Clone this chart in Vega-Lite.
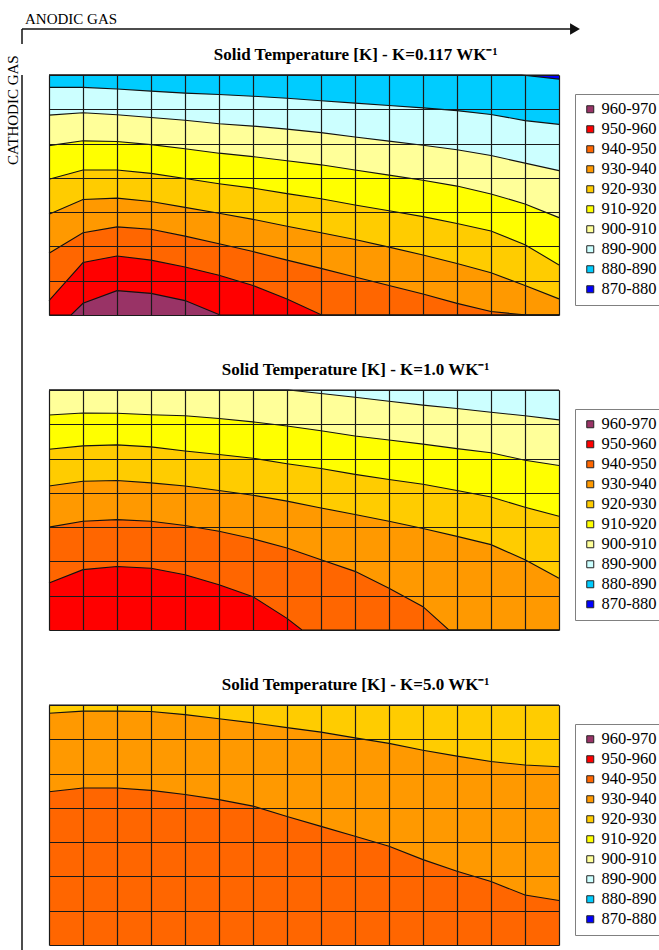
{
  "$schema": "https://vega.github.io/schema/vega-lite/v6.json",
  "padding": {"left": 6, "top": 12, "right": 0, "bottom": 0},
  "title": {"text": "CATHODIC GAS", "orient": "left", "anchor": "end", "fontSize": 15, "fontWeight": "normal", "offset": -5, "dx": -43},
  "datasets": {
    "t": [
      {"p":1,"b":"870-880","x":0,"y":0},{"p":1,"b":"870-880","x":15,"y":0},
      {"p":1,"b":"880-890","x":0,"y":0},{"p":1,"b":"880-890","x":13.9,"y":0},{"p":1,"b":"880-890","x":15,"y":0.12},
      {"p":1,"b":"890-900","x":0,"y":0.36},{"p":1,"b":"890-900","x":1,"y":0.36},{"p":1,"b":"890-900","x":2,"y":0.41},{"p":1,"b":"890-900","x":3,"y":0.47},{"p":1,"b":"890-900","x":4,"y":0.53},{"p":1,"b":"890-900","x":5,"y":0.57},{"p":1,"b":"890-900","x":6,"y":0.62},{"p":1,"b":"890-900","x":7,"y":0.68},{"p":1,"b":"890-900","x":8,"y":0.75},{"p":1,"b":"890-900","x":9,"y":0.82},{"p":1,"b":"890-900","x":10,"y":0.89},{"p":1,"b":"890-900","x":11,"y":0.96},{"p":1,"b":"890-900","x":12,"y":1.04},{"p":1,"b":"890-900","x":13,"y":1.15},{"p":1,"b":"890-900","x":14,"y":1.33},{"p":1,"b":"890-900","x":15,"y":1.44},
      {"p":1,"b":"900-910","x":0,"y":1.17},{"p":1,"b":"900-910","x":1,"y":1.10},{"p":1,"b":"900-910","x":2,"y":1.16},{"p":1,"b":"900-910","x":3,"y":1.24},{"p":1,"b":"900-910","x":4,"y":1.32},{"p":1,"b":"900-910","x":5,"y":1.42},{"p":1,"b":"900-910","x":6,"y":1.49},{"p":1,"b":"900-910","x":7,"y":1.58},{"p":1,"b":"900-910","x":8,"y":1.68},{"p":1,"b":"900-910","x":9,"y":1.81},{"p":1,"b":"900-910","x":10,"y":1.93},{"p":1,"b":"900-910","x":11,"y":2.05},{"p":1,"b":"900-910","x":12,"y":2.18},{"p":1,"b":"900-910","x":13,"y":2.35},{"p":1,"b":"900-910","x":14,"y":2.57},{"p":1,"b":"900-910","x":15,"y":2.79},
      {"p":1,"b":"910-920","x":0,"y":2.06},{"p":1,"b":"910-920","x":1,"y":1.92},{"p":1,"b":"910-920","x":2,"y":1.94},{"p":1,"b":"910-920","x":3,"y":2.03},{"p":1,"b":"910-920","x":4,"y":2.15},{"p":1,"b":"910-920","x":5,"y":2.28},{"p":1,"b":"910-920","x":6,"y":2.38},{"p":1,"b":"910-920","x":7,"y":2.50},{"p":1,"b":"910-920","x":8,"y":2.62},{"p":1,"b":"910-920","x":9,"y":2.77},{"p":1,"b":"910-920","x":10,"y":2.92},{"p":1,"b":"910-920","x":11,"y":3.07},{"p":1,"b":"910-920","x":12,"y":3.24},{"p":1,"b":"910-920","x":13,"y":3.47},{"p":1,"b":"910-920","x":14,"y":3.76},{"p":1,"b":"910-920","x":15,"y":4.16},
      {"p":1,"b":"920-930","x":0,"y":3.04},{"p":1,"b":"920-930","x":1,"y":2.77},{"p":1,"b":"920-930","x":2,"y":2.77},{"p":1,"b":"920-930","x":3,"y":2.87},{"p":1,"b":"920-930","x":4,"y":3.02},{"p":1,"b":"920-930","x":5,"y":3.17},{"p":1,"b":"920-930","x":6,"y":3.30},{"p":1,"b":"920-930","x":7,"y":3.46},{"p":1,"b":"920-930","x":8,"y":3.61},{"p":1,"b":"920-930","x":9,"y":3.79},{"p":1,"b":"920-930","x":10,"y":3.96},{"p":1,"b":"920-930","x":11,"y":4.13},{"p":1,"b":"920-930","x":12,"y":4.33},{"p":1,"b":"920-930","x":13,"y":4.55},{"p":1,"b":"920-930","x":14,"y":4.95},{"p":1,"b":"920-930","x":15,"y":5.54},
      {"p":1,"b":"930-940","x":0,"y":4.06},{"p":1,"b":"930-940","x":1,"y":3.63},{"p":1,"b":"930-940","x":2,"y":3.59},{"p":1,"b":"930-940","x":3,"y":3.69},{"p":1,"b":"930-940","x":4,"y":3.86},{"p":1,"b":"930-940","x":5,"y":4.03},{"p":1,"b":"930-940","x":6,"y":4.21},{"p":1,"b":"930-940","x":7,"y":4.41},{"p":1,"b":"930-940","x":8,"y":4.60},{"p":1,"b":"930-940","x":9,"y":4.80},{"p":1,"b":"930-940","x":10,"y":5.02},{"p":1,"b":"930-940","x":11,"y":5.25},{"p":1,"b":"930-940","x":12,"y":5.50},{"p":1,"b":"930-940","x":13,"y":5.77},{"p":1,"b":"930-940","x":14,"y":6.14},{"p":1,"b":"930-940","x":15,"y":6.53},
      {"p":1,"b":"940-950","x":0,"y":5.20},{"p":1,"b":"940-950","x":1,"y":4.60},{"p":1,"b":"940-950","x":2,"y":4.43},{"p":1,"b":"940-950","x":3,"y":4.50},{"p":1,"b":"940-950","x":4,"y":4.70},{"p":1,"b":"940-950","x":5,"y":4.92},{"p":1,"b":"940-950","x":6,"y":5.15},{"p":1,"b":"940-950","x":7,"y":5.40},{"p":1,"b":"940-950","x":8,"y":5.64},{"p":1,"b":"940-950","x":9,"y":5.89},{"p":1,"b":"940-950","x":10,"y":6.14},{"p":1,"b":"940-950","x":11,"y":6.39},{"p":1,"b":"940-950","x":12,"y":6.66},{"p":1,"b":"940-950","x":13,"y":6.90},{"p":1,"b":"940-950","x":14.06,"y":7},{"p":1,"b":"940-950","x":15,"y":7},
      {"p":1,"b":"950-960","x":0,"y":6.58},{"p":1,"b":"950-960","x":1,"y":5.47},{"p":1,"b":"950-960","x":2,"y":5.28},{"p":1,"b":"950-960","x":3,"y":5.40},{"p":1,"b":"950-960","x":4,"y":5.60},{"p":1,"b":"950-960","x":5,"y":5.84},{"p":1,"b":"950-960","x":6,"y":6.14},{"p":1,"b":"950-960","x":7,"y":6.53},{"p":1,"b":"950-960","x":8.02,"y":7},{"p":1,"b":"950-960","x":15,"y":7},
      {"p":1,"b":"960-970","x":0,"y":7},{"p":1,"b":"960-970","x":0.65,"y":7},{"p":1,"b":"960-970","x":1,"y":6.66},{"p":1,"b":"960-970","x":2,"y":6.29},{"p":1,"b":"960-970","x":3,"y":6.37},{"p":1,"b":"960-970","x":4,"y":6.58},{"p":1,"b":"960-970","x":5.03,"y":7},{"p":1,"b":"960-970","x":15,"y":7},

      {"p":2,"b":"890-900","x":0,"y":0},{"p":2,"b":"890-900","x":15,"y":0},
      {"p":2,"b":"900-910","x":0,"y":0},{"p":2,"b":"900-910","x":7.05,"y":0},{"p":2,"b":"900-910","x":8,"y":0.10},{"p":2,"b":"900-910","x":9,"y":0.21},{"p":2,"b":"900-910","x":10,"y":0.33},{"p":2,"b":"900-910","x":11,"y":0.44},{"p":2,"b":"900-910","x":12,"y":0.54},{"p":2,"b":"900-910","x":13,"y":0.65},{"p":2,"b":"900-910","x":14,"y":0.75},{"p":2,"b":"900-910","x":15,"y":0.87},
      {"p":2,"b":"910-920","x":0,"y":0.73},{"p":2,"b":"910-920","x":1,"y":0.67},{"p":2,"b":"910-920","x":2,"y":0.68},{"p":2,"b":"910-920","x":3,"y":0.72},{"p":2,"b":"910-920","x":4,"y":0.75},{"p":2,"b":"910-920","x":5,"y":0.83},{"p":2,"b":"910-920","x":6,"y":0.93},{"p":2,"b":"910-920","x":7,"y":1.05},{"p":2,"b":"910-920","x":8,"y":1.19},{"p":2,"b":"910-920","x":9,"y":1.34},{"p":2,"b":"910-920","x":10,"y":1.46},{"p":2,"b":"910-920","x":11,"y":1.58},{"p":2,"b":"910-920","x":12,"y":1.71},{"p":2,"b":"910-920","x":13,"y":1.83},{"p":2,"b":"910-920","x":14,"y":2.05},{"p":2,"b":"910-920","x":15,"y":2.20},
      {"p":2,"b":"920-930","x":0,"y":1.73},{"p":2,"b":"920-930","x":1,"y":1.63},{"p":2,"b":"920-930","x":2,"y":1.60},{"p":2,"b":"920-930","x":3,"y":1.66},{"p":2,"b":"920-930","x":4,"y":1.78},{"p":2,"b":"920-930","x":5,"y":1.88},{"p":2,"b":"920-930","x":6,"y":1.99},{"p":2,"b":"920-930","x":7,"y":2.15},{"p":2,"b":"920-930","x":8,"y":2.29},{"p":2,"b":"920-930","x":9,"y":2.46},{"p":2,"b":"920-930","x":10,"y":2.61},{"p":2,"b":"920-930","x":11,"y":2.75},{"p":2,"b":"920-930","x":12,"y":2.93},{"p":2,"b":"920-930","x":13,"y":3.12},{"p":2,"b":"920-930","x":14,"y":3.42},{"p":2,"b":"920-930","x":15,"y":3.68},
      {"p":2,"b":"930-940","x":0,"y":2.80},{"p":2,"b":"930-940","x":1,"y":2.66},{"p":2,"b":"930-940","x":2,"y":2.64},{"p":2,"b":"930-940","x":3,"y":2.71},{"p":2,"b":"930-940","x":4,"y":2.80},{"p":2,"b":"930-940","x":5,"y":2.93},{"p":2,"b":"930-940","x":6,"y":3.07},{"p":2,"b":"930-940","x":7,"y":3.24},{"p":2,"b":"930-940","x":8,"y":3.44},{"p":2,"b":"930-940","x":9,"y":3.63},{"p":2,"b":"930-940","x":10,"y":3.83},{"p":2,"b":"930-940","x":11,"y":4.04},{"p":2,"b":"930-940","x":12,"y":4.27},{"p":2,"b":"930-940","x":13,"y":4.51},{"p":2,"b":"930-940","x":14,"y":4.95},{"p":2,"b":"930-940","x":15,"y":5.49},
      {"p":2,"b":"940-950","x":0,"y":4.00},{"p":2,"b":"940-950","x":1,"y":3.83},{"p":2,"b":"940-950","x":2,"y":3.78},{"p":2,"b":"940-950","x":3,"y":3.83},{"p":2,"b":"940-950","x":4,"y":3.95},{"p":2,"b":"940-950","x":5,"y":4.12},{"p":2,"b":"940-950","x":6,"y":4.34},{"p":2,"b":"940-950","x":7,"y":4.61},{"p":2,"b":"940-950","x":8,"y":4.95},{"p":2,"b":"940-950","x":9,"y":5.29},{"p":2,"b":"940-950","x":10,"y":5.78},{"p":2,"b":"940-950","x":11,"y":6.32},{"p":2,"b":"940-950","x":11.76,"y":7},{"p":2,"b":"940-950","x":15,"y":7},
      {"p":2,"b":"950-960","x":0,"y":5.63},{"p":2,"b":"950-960","x":1,"y":5.24},{"p":2,"b":"950-960","x":2,"y":5.15},{"p":2,"b":"950-960","x":3,"y":5.20},{"p":2,"b":"950-960","x":4,"y":5.39},{"p":2,"b":"950-960","x":5,"y":5.68},{"p":2,"b":"950-960","x":6,"y":6.03},{"p":2,"b":"950-960","x":7,"y":6.66},{"p":2,"b":"950-960","x":7.44,"y":7},{"p":2,"b":"950-960","x":15,"y":7},

      {"p":3,"b":"920-930","x":0,"y":0},{"p":3,"b":"920-930","x":15,"y":0},
      {"p":3,"b":"930-940","x":0,"y":0.24},{"p":3,"b":"930-940","x":1,"y":0.18},{"p":3,"b":"930-940","x":2,"y":0.18},{"p":3,"b":"930-940","x":3,"y":0.19},{"p":3,"b":"930-940","x":4,"y":0.28},{"p":3,"b":"930-940","x":5,"y":0.40},{"p":3,"b":"930-940","x":6,"y":0.52},{"p":3,"b":"930-940","x":7,"y":0.66},{"p":3,"b":"930-940","x":8,"y":0.79},{"p":3,"b":"930-940","x":9,"y":0.96},{"p":3,"b":"930-940","x":10,"y":1.12},{"p":3,"b":"930-940","x":11,"y":1.32},{"p":3,"b":"930-940","x":12,"y":1.49},{"p":3,"b":"930-940","x":13,"y":1.65},{"p":3,"b":"930-940","x":14,"y":1.75},{"p":3,"b":"930-940","x":15,"y":1.80},
      {"p":3,"b":"940-950","x":0,"y":2.53},{"p":3,"b":"940-950","x":1,"y":2.42},{"p":3,"b":"940-950","x":2,"y":2.42},{"p":3,"b":"940-950","x":3,"y":2.49},{"p":3,"b":"940-950","x":4,"y":2.61},{"p":3,"b":"940-950","x":5,"y":2.76},{"p":3,"b":"940-950","x":6,"y":2.95},{"p":3,"b":"940-950","x":7,"y":3.25},{"p":3,"b":"940-950","x":8,"y":3.54},{"p":3,"b":"940-950","x":9,"y":3.83},{"p":3,"b":"940-950","x":10,"y":4.12},{"p":3,"b":"940-950","x":11,"y":4.51},{"p":3,"b":"940-950","x":12,"y":4.85},{"p":3,"b":"940-950","x":13,"y":5.15},{"p":3,"b":"940-950","x":14,"y":5.54},{"p":3,"b":"940-950","x":15,"y":5.70}
    ]
  },
  "spacing": 0,
  "vconcat": [
    {
      "width": 553,
      "height": 15,
      "data": {"values": [{}]},
      "title": {"text": "ANODIC GAS", "anchor": "start", "fontSize": 15, "fontWeight": "normal", "offset": -4, "dx": 3, "frame": "group"},
      "layer": [
        {"mark": {"type": "rule", "color": "#111", "strokeWidth": 1.5},
         "encoding": {"x": {"datum": 0, "type": "quantitative", "scale": {"domain": [0, 1]}, "axis": null}, "x2": {"datum": 1}, "y": {"datum": 1, "type": "quantitative", "scale": {"domain": [0, 1]}, "axis": null}}},
        {"mark": {"type": "rule", "color": "#111", "strokeWidth": 1.5},
         "encoding": {"x": {"datum": 0, "type": "quantitative"}, "y": {"datum": 0, "type": "quantitative"}, "y2": {"datum": 1}}},
        {"mark": {"type": "point", "shape": "triangle-right", "filled": true, "color": "#111", "opacity": 1, "size": 130},
         "encoding": {"x": {"datum": 1, "type": "quantitative"}, "y": {"datum": 1, "type": "quantitative"}}},
        {"mark": {"type": "point", "shape": "triangle-down", "filled": true, "color": "#111", "opacity": 0, "size": 130},
         "encoding": {"x": {"datum": 0, "type": "quantitative"}, "y": {"datum": 1, "type": "quantitative"}}}
      ]
    },
    {
      "spacing": 18,
      "hconcat": [
        {
          "width": 1,
          "height": 898,
          "data": {"values": [{}]},
          "layer": [
            {"mark": {"type": "rule", "color": "#111", "strokeWidth": 1.5},
             "encoding": {"x": {"datum": 0, "type": "quantitative", "scale": {"domain": [0, 1]}, "axis": null}, "y": {"datum": 0, "type": "quantitative", "scale": {"domain": [0, 1]}, "axis": null}, "y2": {"datum": 1}}},
            {"mark": {"type": "point", "shape": "triangle-down", "filled": true, "color": "#111", "opacity": 1, "size": 130},
             "encoding": {"x": {"datum": 0, "type": "quantitative"}, "y": {"datum": 0, "type": "quantitative"}}}
          ]
        },
        {
          "spacing": 42,
          "resolve": {"scale": {"color": "independent"}, "legend": {"color": "independent"}},
          "vconcat": [
            {
              "width": 510, "height": 240,
              "data": {"name": "t"},
              "transform": [{"filter": "datum.p === 1"}],
              "title": "Solid Temperature [K] - K=0.117 WK⁻¹",
              "encoding": {
                "x": {"field": "x", "type": "quantitative", "scale": {"domain": [0, 15], "nice": false, "zero": false}, "axis": {"values": [0,1,2,3,4,5,6,7,8,9,10,11,12,13,14,15], "grid": true, "labels": false, "ticks": false, "domain": false, "title": null, "zindex": 1, "gridColor": "#1a1a1a", "gridOpacity": 1, "gridWidth": 1.2}},
                "y": {"field": "y", "type": "quantitative", "stack": null, "scale": {"domain": [0, 7], "reverse": true, "nice": false, "zero": false}, "axis": {"values": [0,1,2,3,4,5,6,7], "grid": true, "labels": false, "ticks": false, "domain": false, "title": null, "zindex": 1, "gridColor": "#1a1a1a", "gridOpacity": 1, "gridWidth": 1.2}}
              },
              "layer": [
                {"mark": {"type": "area", "interpolate": "linear"},
                 "encoding": {"y2": {"datum": 7}, "color": {"field": "b", "type": "nominal",
                   "scale": {"domain": ["960-970","950-960","940-950","930-940","920-930","910-920","900-910","890-900","880-890","870-880"], "range": ["#993366","#FF0000","#FF6600","#FF9900","#FFCC00","#FFFF00","#FFFF99","#CCFFFF","#00CCFF","#0000FF"]},
                   "legend": {"title": null, "orient": "none", "legendX": 526, "legendY": 19, "symbolType": "square", "symbolSize": 49, "symbolStrokeColor": "#222", "symbolStrokeWidth": 1, "symbolOffset": 0, "labelFontSize": 16.5, "labelFont": "Liberation Serif", "labelColor": "#000", "labelOffset": 3, "rowPadding": 3, "padding": 7, "strokeColor": "#808080", "fillColor": "#fff", "labelLimit": 0}}}},
                {"mark": {"type": "line", "color": "#111", "strokeWidth": 1.1}, "encoding": {"detail": {"field": "b"}}}
              ]
            },
            {
              "width": 510, "height": 240,
              "data": {"name": "t"},
              "transform": [{"filter": "datum.p === 2"}],
              "title": "Solid Temperature [K] - K=1.0 WK⁻¹",
              "encoding": {
                "x": {"field": "x", "type": "quantitative", "scale": {"domain": [0, 15], "nice": false, "zero": false}, "axis": {"values": [0,1,2,3,4,5,6,7,8,9,10,11,12,13,14,15], "grid": true, "labels": false, "ticks": false, "domain": false, "title": null, "zindex": 1, "gridColor": "#1a1a1a", "gridOpacity": 1, "gridWidth": 1.2}},
                "y": {"field": "y", "type": "quantitative", "stack": null, "scale": {"domain": [0, 7], "reverse": true, "nice": false, "zero": false}, "axis": {"values": [0,1,2,3,4,5,6,7], "grid": true, "labels": false, "ticks": false, "domain": false, "title": null, "zindex": 1, "gridColor": "#1a1a1a", "gridOpacity": 1, "gridWidth": 1.2}}
              },
              "layer": [
                {"mark": {"type": "area", "interpolate": "linear"},
                 "encoding": {"y2": {"datum": 7}, "color": {"field": "b", "type": "nominal",
                   "scale": {"domain": ["960-970","950-960","940-950","930-940","920-930","910-920","900-910","890-900","880-890","870-880"], "range": ["#993366","#FF0000","#FF6600","#FF9900","#FFCC00","#FFFF00","#FFFF99","#CCFFFF","#00CCFF","#0000FF"]},
                   "legend": {"title": null, "orient": "none", "legendX": 526, "legendY": 19, "symbolType": "square", "symbolSize": 49, "symbolStrokeColor": "#222", "symbolStrokeWidth": 1, "symbolOffset": 0, "labelFontSize": 16.5, "labelFont": "Liberation Serif", "labelColor": "#000", "labelOffset": 3, "rowPadding": 3, "padding": 7, "strokeColor": "#808080", "fillColor": "#fff", "labelLimit": 0}}}},
                {"mark": {"type": "line", "color": "#111", "strokeWidth": 1.1}, "encoding": {"detail": {"field": "b"}}}
              ]
            },
            {
              "width": 510, "height": 240,
              "data": {"name": "t"},
              "transform": [{"filter": "datum.p === 3"}],
              "title": "Solid Temperature [K] - K=5.0 WK⁻¹",
              "encoding": {
                "x": {"field": "x", "type": "quantitative", "scale": {"domain": [0, 15], "nice": false, "zero": false}, "axis": {"values": [0,1,2,3,4,5,6,7,8,9,10,11,12,13,14,15], "grid": true, "labels": false, "ticks": false, "domain": false, "title": null, "zindex": 1, "gridColor": "#1a1a1a", "gridOpacity": 1, "gridWidth": 1.2}},
                "y": {"field": "y", "type": "quantitative", "stack": null, "scale": {"domain": [0, 7], "reverse": true, "nice": false, "zero": false}, "axis": {"values": [0,1,2,3,4,5,6,7], "grid": true, "labels": false, "ticks": false, "domain": false, "title": null, "zindex": 1, "gridColor": "#1a1a1a", "gridOpacity": 1, "gridWidth": 1.2}}
              },
              "layer": [
                {"mark": {"type": "area", "interpolate": "linear"},
                 "encoding": {"y2": {"datum": 7}, "color": {"field": "b", "type": "nominal",
                   "scale": {"domain": ["960-970","950-960","940-950","930-940","920-930","910-920","900-910","890-900","880-890","870-880"], "range": ["#993366","#FF0000","#FF6600","#FF9900","#FFCC00","#FFFF00","#FFFF99","#CCFFFF","#00CCFF","#0000FF"]},
                   "legend": {"title": null, "orient": "none", "legendX": 526, "legendY": 19, "symbolType": "square", "symbolSize": 49, "symbolStrokeColor": "#222", "symbolStrokeWidth": 1, "symbolOffset": 0, "labelFontSize": 16.5, "labelFont": "Liberation Serif", "labelColor": "#000", "labelOffset": 3, "rowPadding": 3, "padding": 7, "strokeColor": "#808080", "fillColor": "#fff", "labelLimit": 0}}}},
                {"mark": {"type": "line", "color": "#111", "strokeWidth": 1.1}, "encoding": {"detail": {"field": "b"}}}
              ]
            }
          ]
        }
      ]
    }
  ],
  "config": {
    "font": "Liberation Serif",
    "view": {"stroke": null},
    "axis": {"minExtent": 0},
    "title": {"font": "Liberation Serif", "fontSize": 17, "fontWeight": "bold", "color": "#000", "offset": 9, "frame": "bounds"}
  }
}
